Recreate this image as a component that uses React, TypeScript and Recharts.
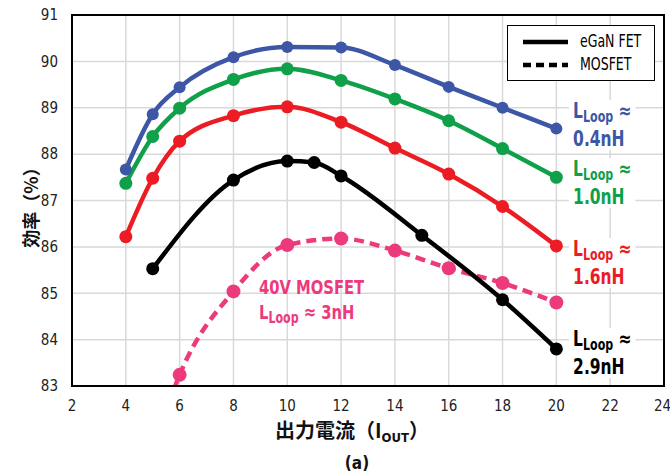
import React from "react";
import {
  LineChart,
  Line,
  XAxis,
  YAxis,
  CartesianGrid,
  ReferenceArea,
} from "recharts";

const xTicks = [2, 4, 6, 8, 10, 12, 14, 16, 18, 20, 22, 24];
const yTicks = [83, 84, 85, 86, 87, 88, 89, 90, 91];

const iout04 = [4, 5, 6, 8, 10, 12, 14, 16, 18, 20];
const eff04 = [87.67, 88.86, 89.44, 90.09, 90.31, 90.3, 89.92, 89.45, 89.0, 88.55];

const iout10 = [4, 5, 6, 8, 10, 12, 14, 16, 18, 20];
const eff10 = [87.37, 88.38, 88.99, 89.61, 89.84, 89.59, 89.19, 88.72, 88.12, 87.5];

const iout16 = [4, 5, 6, 8, 10, 12, 14, 16, 18, 20];
const eff16 = [86.22, 87.48, 88.28, 88.83, 89.02, 88.69, 88.13, 87.57, 86.87, 86.02];

const iout29 = [5, 8, 10, 11, 12, 15, 18, 20];
const eff29 = [85.53, 87.44, 87.85, 87.82, 87.53, 86.25, 84.86, 83.8];

const ioutMos = [5, 6, 8, 10, 12, 14, 16, 18, 20];
const effMos = [81.6, 83.24, 85.04, 86.04, 86.18, 85.92, 85.54, 85.22, 84.8];

const toRows = (xs: number[], ys: number[]) =>
  xs.map((x, i) => ({ x, y: ys[i] }));

const FONT = "'Liberation Sans Narrow', 'DejaVu Sans Condensed', 'Liberation Sans', sans-serif";
const CJK = "'Noto Sans CJK JP', 'Noto Sans CJK SC', sans-serif";

const BLUE = "#3d56a6";
const GREEN = "#10a04a";
const RED = "#ec1c24";
const BLACK = "#000000";
const PINK = "#ec3a7c";

// condensed look, the original uses a narrow face
const narrow: React.CSSProperties = {
  transform: "scaleX(0.82)",
  transformOrigin: "left top",
  whiteSpace: "nowrap",
};

function LoopLabel({
  left,
  top,
  color,
  value,
}: {
  left: number;
  top: number;
  color: string;
  value: string;
}) {
  return (
    <div
      style={{
        ...narrow,
        position: "absolute",
        left,
        top,
        color,
        background: "#fff",
        fontFamily: FONT,
        fontWeight: 700,
        fontSize: 21,
        lineHeight: "22px",
        padding: "0 5px 0 5px",
      }}
    >
      <div>
        L<sub style={{ fontSize: 15, verticalAlign: "-4px" }}>Loop</sub>{" "}
        ≈
      </div>
      <div>{value}</div>
    </div>
  );
}

export default function App() {
  return (
    <div
      style={{
        position: "absolute",
        left: 0,
        top: 0,
        width: 670,
        height: 476,
        background: "#fff",
      }}
    >
      <LineChart
        width={670}
        height={476}
        margin={{ top: 15, right: 6, bottom: 60, left: 32 }}
      >
        <CartesianGrid stroke="#d9d9d9" strokeWidth={1.5} />
        <XAxis
          type="number"
          dataKey="x"
          domain={[2, 24]}
          ticks={xTicks}
          allowDataOverflow
          axisLine={{ stroke: "#000", strokeWidth: 2 }}
          tickLine={false}
          tick={{ fontSize: 15, fill: "#222", fontFamily: FONT }}
          tickMargin={8}
          height={30}
        />
        <YAxis
          type="number"
          dataKey="y"
          domain={[83, 91]}
          ticks={yTicks}
          allowDataOverflow
          axisLine={{ stroke: "#000", strokeWidth: 2 }}
          tickLine={false}
          tick={{ fontSize: 15, fill: "#222", fontFamily: FONT }}
          tickMargin={8}
          width={40}
        />
        <ReferenceArea
          x1={2}
          x2={24}
          y1={83}
          y2={91}
          fill="none"
          stroke="#000"
          strokeWidth={2}
          ifOverflow="visible"
        />
        <Line
          data={toRows(ioutMos, effMos)}
          dataKey="y"
          type="monotone"
          stroke={PINK}
          strokeWidth={4.5}
          strokeDasharray="10 6"
          dot={{ r: 7, fill: PINK, stroke: PINK, strokeWidth: 0 }}
          isAnimationActive={false}
        />
        <Line
          data={toRows(iout29, eff29)}
          dataKey="y"
          type="monotone"
          stroke={BLACK}
          strokeWidth={4.5}
          dot={{ r: 6.5, fill: BLACK, stroke: BLACK, strokeWidth: 0 }}
          isAnimationActive={false}
        />
        <Line
          data={toRows(iout16, eff16)}
          dataKey="y"
          type="monotone"
          stroke={RED}
          strokeWidth={4.5}
          dot={{ r: 6.5, fill: RED, stroke: RED, strokeWidth: 0 }}
          isAnimationActive={false}
        />
        <Line
          data={toRows(iout10, eff10)}
          dataKey="y"
          type="monotone"
          stroke={GREEN}
          strokeWidth={4.5}
          dot={{ r: 6.5, fill: GREEN, stroke: GREEN, strokeWidth: 0 }}
          isAnimationActive={false}
        />
        <Line
          data={toRows(iout04, eff04)}
          dataKey="y"
          type="monotone"
          stroke={BLUE}
          strokeWidth={4.5}
          dot={{ r: 6, fill: BLUE, stroke: BLUE, strokeWidth: 0 }}
          isAnimationActive={false}
        />
      </LineChart>

      {/* legend */}
      <div
        style={{
          position: "absolute",
          left: 507,
          top: 25,
          width: 146,
          height: 54,
          border: "1.5px solid #000",
          background: "#fff",
          fontFamily: FONT,
          fontSize: 17,
          color: "#000",
        }}
      >
        <svg width={60} height={54} style={{ position: "absolute", left: 0, top: 0 }}>
          <line x1={15} y1={16} x2={62} y2={16} stroke="#000" strokeWidth={4.5} />
          <line
            x1={15}
            y1={39}
            x2={62}
            y2={39}
            stroke="#000"
            strokeWidth={4.5}
            strokeDasharray="8 5"
          />
        </svg>
        <div style={{ ...narrow, position: "absolute", left: 72, top: 5 }}>eGaN FET</div>
        <div style={{ ...narrow, position: "absolute", left: 72, top: 28 }}>MOSFET</div>
      </div>

      <LoopLabel left={569} top={100} color={BLUE} value="0.4nH" />
      <LoopLabel left={569} top={158} color={GREEN} value="1.0nH" />
      <LoopLabel left={569} top={238} color={RED} value="1.6nH" />
      <LoopLabel left={569} top={328} color={BLACK} value="2.9nH" />

      {/* MOSFET annotation */}
      <div
        style={{
          ...narrow,
          position: "absolute",
          left: 259,
          top: 275,
          color: PINK,
          fontFamily: FONT,
          fontWeight: 700,
          fontSize: 20,
          lineHeight: "25px",
        }}
      >
        <div>40V MOSFET</div>
        <div>
          L<sub style={{ fontSize: 15, verticalAlign: "-4px" }}>Loop</sub> ≈ 3nH
        </div>
      </div>

      {/* y axis title */}
      <div
        style={{
          position: "absolute",
          left: 30,
          top: 203,
          transform: "translate(-50%, -50%) rotate(-90deg)",
          whiteSpace: "nowrap",
          fontFamily: CJK,
          fontWeight: 700,
          fontSize: 18,
          color: "#111",
        }}
      >
        効率（%）
      </div>

      {/* x axis title */}
      <div
        style={{
          position: "absolute",
          left: 352,
          top: 430,
          transform: "translate(-50%, -50%)",
          whiteSpace: "nowrap",
          fontFamily: CJK,
          fontWeight: 700,
          fontSize: 20,
          color: "#111",
        }}
      >
        出力電流（I
        <sub style={{ fontFamily: FONT, fontSize: 13, verticalAlign: "-4px" }}>OUT</sub>）
      </div>

      <div
        style={{
          position: "absolute",
          left: 357,
          top: 463,
          transform: "translate(-50%, -50%)",
          fontFamily: FONT,
          fontWeight: 700,
          fontSize: 17,
          color: "#111",
        }}
      >
        (a)
      </div>
    </div>
  );
}
